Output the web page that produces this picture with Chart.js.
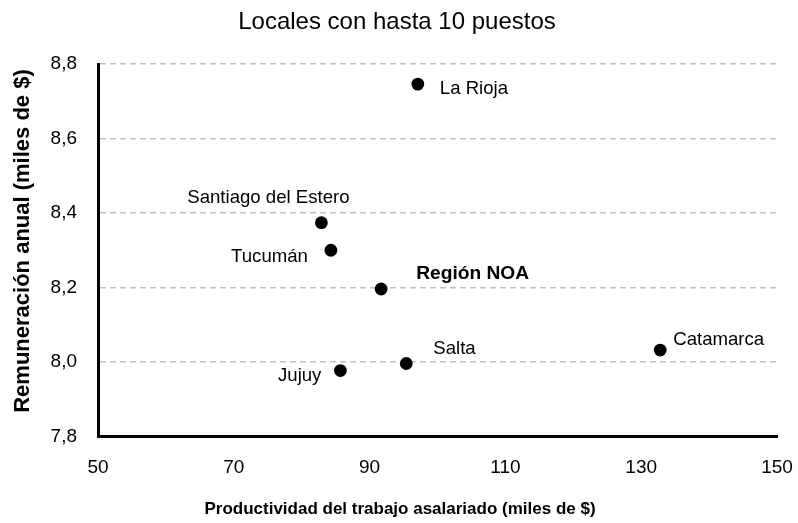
<!DOCTYPE html>
<html>
<head>
<meta charset="utf-8">
<script src="https://cdn.jsdelivr.net/npm/chart.js@4"></script>
<style>
  html, body { margin: 0; padding: 0; background: #fff; }
  #wrap { width: 798px; height: 523px; }
</style>
</head>
<body>
<div id="wrap"><canvas id="chart" width="798" height="523"></canvas></div>
<script>
// provinces of the NOA region
const provinces = ['La Rioja', 'Santiago del Estero', 'Tucumán', 'Región NOA', 'Salta', 'Jujuy', 'Catamarca'];
// productividad (miles de $)
const productivity = [97.1, 82.9, 84.3, 91.7, 95.4, 85.7, 132.8];
// remuneración anual (miles de $)
const wages = [8.746, 8.374, 8.30, 8.196, 7.996, 7.977, 8.032];

const xTicks = [50, 70, 90, 110, 130, 150];
const yTicks = [7.8, 8.0, 8.2, 8.4, 8.6, 8.8];

// where each name sits relative to its dot
const labelPlacement = [
  { dx: 22, dy: 3, align: 'left' },
  { dx: -53, dy: -26, align: 'center' },
  { dx: -23, dy: 5, align: 'right' },
  { dx: 35, dy: -17, align: 'left', bold: true },
  { dx: 27, dy: -16, align: 'left' },
  { dx: -19, dy: 4, align: 'right' },
  { dx: 13, dy: -12, align: 'left' }
];

const FONT = '"Liberation Sans", Arial, sans-serif';

const pointLabels = {
  id: 'pointLabels',
  afterDatasetsDraw(chart) {
    const ctx = chart.ctx;
    const meta = chart.getDatasetMeta(0);
    ctx.save();
    ctx.fillStyle = '#000';
    ctx.textBaseline = 'alphabetic';
    meta.data.forEach((pt, i) => {
      const p = labelPlacement[i];
      const size = p.bold ? 19.2 : 18.6;
      ctx.font = (p.bold ? 'bold ' : '') + size + 'px ' + FONT;
      ctx.textAlign = p.align;
      ctx.fillText(provinces[i], pt.x + p.dx, pt.y + p.dy + size * 0.358);
    });
    ctx.restore();
  }
};

// chart title and both axis titles, placed like the original
const titles = {
  id: 'titles',
  afterDraw(chart) {
    const ctx = chart.ctx;
    ctx.save();
    ctx.fillStyle = '#000';
    ctx.textAlign = 'center';
    ctx.textBaseline = 'middle';
    ctx.font = '24px ' + FONT;
    ctx.fillText('Locales con hasta 10 puestos', 397, 22);
    ctx.font = 'bold 17px ' + FONT;
    ctx.fillText('Productividad del trabajo asalariado (miles de $)', 400, 509);
    ctx.font = 'bold 22px ' + FONT;
    ctx.translate(23, 241);
    ctx.rotate(-Math.PI / 2);
    ctx.fillText('Remuneración anual (miles de $)', 0, 0);
    ctx.restore();
  }
};

new Chart(document.getElementById('chart'), {
  type: 'scatter',
  data: {
    datasets: [{
      label: 'Locales',
      data: productivity.map((x, i) => ({ x: x, y: wages[i] })),
      backgroundColor: '#000',
      borderWidth: 0,
      pointRadius: 6.4,
      pointHoverRadius: 6.4
    }]
  },
  options: {
    responsive: false,
    animation: false,
    layout: { padding: { left: 0, right: 21, top: 64, bottom: 0 } },
    plugins: {
      legend: { display: false },
      tooltip: { enabled: false },
      title: { display: false }
    },
    scales: {
      x: {
        type: 'linear',
        min: 50,
        max: 150,
        afterBuildTicks: s => { s.ticks = xTicks.map(v => ({ value: v })); },
        afterFit: s => {
          s.height = 86.5;
          s.paddingLeft = 0;
          s.paddingRight = 0;
        },
        grid: { display: false, drawTicks: false },
        border: { display: true, color: '#000', width: 3 },
        ticks: {
          color: '#000',
          padding: 20,
          font: { family: FONT, size: 19 }
        }
      },
      y: {
        type: 'linear',
        min: 7.8,
        max: 8.8,
        afterBuildTicks: s => { s.ticks = yTicks.map(v => ({ value: v })); },
        afterFit: s => {
          s.width = 98;
          s.paddingTop = 0;
          s.paddingBottom = 0;
        },
        grid: {
          drawTicks: false,
          color: c => (c.tick && c.tick.value > 7.81 ? '#c0c0c0' : 'rgba(0,0,0,0)'),
          lineWidth: 1.5
        },
        border: { display: true, color: '#000', width: 3, dash: [6, 4] },
        ticks: {
          color: '#000',
          padding: 21,
          font: { family: FONT, size: 19 },
          callback: v => v.toFixed(1).replace('.', ',')
        }
      }
    }
  },
  plugins: [pointLabels, titles]
});
</script>
</body>
</html>
